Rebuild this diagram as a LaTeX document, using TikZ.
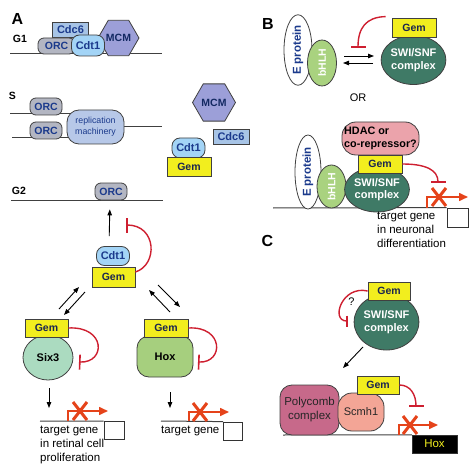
\documentclass[tikz,border=0pt]{standalone}
\usepackage{fontspec}
\setmainfont{Liberation Sans}
\usetikzlibrary{arrows.meta, shapes.geometric, shapes.misc}

\definecolor{protblue}{HTML}{1B3A8C}
\definecolor{gemtext}{HTML}{1A2550}
\definecolor{cdcfill}{HTML}{A7C4E6}
\definecolor{cdtfill}{HTML}{A3D4F6}
\definecolor{orcfill}{HTML}{B3B6C2}
\definecolor{mcmfill}{HTML}{9C9FD8}
\definecolor{repfill}{HTML}{B7C8E8}
\definecolor{gemfill}{HTML}{F2EE1E}
\definecolor{sixfill}{HTML}{ABDBC0}
\definecolor{hoxfill}{HTML}{A6CF7E}
\definecolor{swifill}{HTML}{3F7A66}
\definecolor{bhlhfill}{HTML}{A9D27F}
\definecolor{hdacfill}{HTML}{EBA3AB}
\definecolor{pcfill}{HTML}{C7698A}
\definecolor{scmfill}{HTML}{F3A596}
\definecolor{inhred}{HTML}{CE1F30}
\definecolor{promred}{HTML}{E5431A}

\tikzset{
  every node/.style={font=\fontsize{11}{13}\selectfont},
  panel/.style={font=\bfseries\fontsize{16}{18}\selectfont},
  phase/.style={font=\bfseries\fontsize{10.5}{12}\selectfont},
  prot/.style={draw=black!75, line width=0.8pt, inner sep=0pt, font=\bfseries\fontsize{10.5}{12}\selectfont},
  orc/.style={prot, rounded corners=6pt, fill=orcfill, text=protblue, minimum width=32pt, minimum height=17pt},
  cdt/.style={prot, rounded corners=8pt, fill=cdtfill, text=protblue, minimum width=33pt, minimum height=20pt, font=\bfseries\fontsize{11}{12}\selectfont},
  cdc/.style={prot, rectangle, fill=cdcfill, text=protblue, minimum width=36pt, minimum height=15pt, font=\bfseries\fontsize{11}{12}\selectfont},
  mcm/.style={prot, regular polygon, regular polygon sides=6, fill=mcmfill, text=protblue!70!black, minimum size=40pt},
  gem/.style={prot, rectangle, fill=gemfill, text=gemtext, minimum width=43pt, minimum height=18pt},
  swi/.style={prot, ellipse, fill=swifill, text=white, align=center, font=\bfseries\fontsize{11}{12.5}\selectfont},
  eprot/.style={prot, ellipse, fill=white, text=protblue, rotate=90, font=\bfseries\fontsize{11.5}{12}\selectfont},
  bhlh/.style={prot, ellipse, fill=bhlhfill, text=white, rotate=90, font=\bfseries\fontsize{10.5}{12}\selectfont},
  genebox/.style={draw=black!80, line width=0.8pt, minimum width=20pt, minimum height=18pt, inner sep=0pt},
  genetext/.style={anchor=north west, align=left, inner sep=0pt, font=\fontsize{11.5}{14}\selectfont},
  xmark/.style={cross out, draw=promred, line width=3pt, minimum width=11pt, minimum height=15pt, inner sep=0pt},
  dna/.style={draw=black!75, line width=1pt},
  arr/.style={-{Triangle[length=6pt, width=4.5pt]}, line width=0.9pt},
  inh/.style={draw=inhred, line width=1.4pt, -{Bar[width=15pt, line width=1.6pt]}},
  prom/.style={draw=promred, line width=1.6pt, -{Triangle[length=9pt, width=8pt]}}
}

\begin{document}
\begin{tikzpicture}[x=1pt, y=-1pt]
  \useasboundingbox (0,0) rectangle (474,468);

  %panel A: G1
  \node[panel] (labA) at (17.5,19) {A};
  \node[phase] (g1) at (20,39) {G1};
  \draw[dna] (10,54) -- (162,54);
  \node[mcm] (mcmA) at (118.5,38) {MCM};
  \node[cdc] (cdcA) at (70.5,30) {Cdc6};
  \node[orc, minimum width=37pt, minimum height=16pt] (orcA) at (56.5,46) {ORC};
  \node[cdt, minimum height=21pt] (cdtA) at (88,45.5) {Cdt1};

  %panel A: S
  \node[phase] (s) at (12.5,96) {S};
  \draw[dna] (10,114) -- (85,114);
  \draw[dna] (12,138) -- (85,138);
  \draw[dna] (105,127) -- (162,127);
  \node[orc] (orcS1) at (46,106.5) {ORC};
  \node[orc] (orcS2) at (46,130.5) {ORC};
  \node[prot, rounded corners=12pt, fill=repfill, text=protblue, align=center, minimum width=57pt, minimum height=34pt,
        font=\fontsize{8.8}{11}\selectfont] (rep) at (95.5,127) {replication\\machinery};
  \node[mcm, minimum size=43pt] (mcmS) at (214,102.5) {MCM};
  \node[cdc] (cdcS) at (231,137) {Cdc6};
  \node[cdt] (cdtS) at (188.5,148) {Cdt1};
  \node[gem, minimum width=44pt, minimum height=19pt] (gemS) at (189,166.5) {Gem};

  %panel A: G2
  \node[phase] (g2) at (19,191) {G2};
  \draw[dna] (11,200) -- (163,200);
  \node[orc] (orcG) at (111,191.5) {ORC};
  \node[cdt, minimum height=19pt] (cdtC) at (113,256) {Cdt1};
  \node[gem, minimum height=20pt] (gemC) at (113.5,277) {Gem};
  \draw[arr, shorten <=10pt, shorten >=9pt] ([xshift=-4pt]cdtC.north) -- ([xshift=-1pt]orcG.south);
  \draw[inh] ([yshift=5pt]gemC.east) .. controls (158,265) and (157,225) .. (126,225);

  %double arrows
  \coordinate (la1) at (59,309);
  \coordinate (la2) at (79,287);
  \coordinate (lb1) at (85,292);
  \coordinate (lb2) at (64,315);
  \coordinate (ra1) at (170,312);
  \coordinate (ra2) at (149,290);
  \coordinate (rb1) at (158,285);
  \coordinate (rb2) at (180,307);
  \draw[arr] (la1) -- (la2);
  \draw[arr] (lb1) -- (lb2);
  \draw[arr] (ra1) -- (ra2);
  \draw[arr] (rb1) -- (rb2);

  %Six3
  \node[prot, ellipse, fill=sixfill, text=black, minimum width=50pt, minimum height=45pt,
        font=\bfseries\fontsize{11}{12}\selectfont] (six) at (48,357.5) {Six3};
  \node[gem] (gemL) at (46.5,328) {Gem};
  \draw[inh] (gemL.east) .. controls (106,326) and (106,363) .. (79,362);
  \coordinate (sixd1) at (49,388);
  \coordinate (sixd2) at (49,408);
  \draw[arr] (sixd1) -- (sixd2);
  \node[genebox] (geneL) at (114,430.5) {};
  \draw[dna] (40,421) -- (geneL.north west);
  \coordinate (promL) at (68,421);
  \draw[prom] (promL) -- (68,411) -- (108,411);
  \node[xmark] (xL) at (80,411) {};
  \node[genetext] (txtL) at (40,426) {target gene\\in retinal cell\\proliferation};

  %Hox
  \node[prot, rounded corners=12pt, fill=hoxfill, text=black, minimum width=56pt, minimum height=41pt,
        font=\bfseries\fontsize{11}{12}\selectfont] (hox) at (165,356.5) {Hox};
  \node[gem, minimum width=44pt] (gemR) at (166,328) {Gem};
  \draw[inh] (gemR.east) .. controls (224,326) and (224,363) .. (198,362);
  \coordinate (hoxd1) at (170,392);
  \coordinate (hoxd2) at (170,408);
  \draw[arr] (hoxd1) -- (hoxd2);
  \node[genebox, minimum width=19pt] (geneR) at (233,431) {};
  \draw[dna] (161,421) -- (geneR.north west);
  \coordinate (promR) at (189,421);
  \draw[prom] (promR) -- (189,412) -- (229,412);
  \node[xmark] (xR) at (200,412) {};
  \node[genetext] (txtR) at (161,426) {target gene};

  %panel B
  \node[panel] (labB) at (268,24) {B};
  \node[eprot, minimum width=70pt, minimum height=28pt] (epB) at (298,50) {E protein};
  \node[bhlh, minimum width=46pt, minimum height=29pt] (bhB) at (322,63) {bHLH};
  \coordinate (eq1) at (344,56);
  \coordinate (eq2) at (374,56);
  \coordinate (eq3) at (373,63);
  \coordinate (eq4) at (343,63);
  \draw[arr] (eq1) -- (eq2);
  \draw[arr] (eq3) -- (eq4);
  \node[swi, minimum width=63pt, minimum height=49pt] (swiB) at (413.5,60) {SWI/SNF\\complex};
  \node[gem, minimum width=44pt, minimum height=19pt] (gemB) at (414,27.5) {Gem};
  \draw[inh] ([xshift=-6pt, yshift=1pt]gemB.north west) .. controls (366,17) and (358,28) .. (358,48);
  \node (or) at (358,98) {OR};

  %panel B: on the gene
  \node[genebox, minimum width=21pt, minimum height=19pt] (geneB) at (457.5,217.5) {};
  \draw[dna] (273,208) -- (geneB.north west);
  \node[prot, rounded corners=14pt, fill=hdacfill, text=black, align=left, minimum width=77pt, minimum height=33pt,
        font=\bfseries\fontsize{10.8}{12.5}\selectfont] (hdac) at (380.5,138.5) {HDAC or\\co-repressor?};
  \node[eprot, minimum width=74pt, minimum height=26pt] (epB2) at (308,172) {E protein};
  \node[bhlh, minimum width=43pt, minimum height=29pt] (bhB2) at (331.5,186.5) {bHLH};
  \node[swi, minimum width=64pt, minimum height=45pt] (swiB2) at (377,189.5) {SWI/SNF\\complex};
  \node[gem, minimum width=44pt] (gemB2) at (380,164) {Gem};
  \draw[inh] (gemB2.east) .. controls (426,164) and (438,170) .. (438,183);
  \coordinate (promB) at (427,208);
  \draw[prom] (promB) -- (427,197) -- (468,197);
  \node[xmark] (xB) at (439,197) {};
  \node[genetext] (txtB) at (377,212) {target gene\\in neuronal\\differentiation};

  %panel C
  \node[panel] (labC) at (267.5,241) {C};
  \node[swi, minimum width=63pt, minimum height=56pt] (swiC) at (386.5,322) {SWI/SNF\\complex};
  \node[gem, minimum width=42pt] (gemC1) at (389,291) {Gem};
  \draw[inh, -{Bar[width=11pt, line width=1.6pt]}] (gemC1.west) .. controls (342,285) and (330,321) .. (348,321);
  \node[font=\fontsize{11}{12}\selectfont] (qm) at (351.5,302) {?};
  \coordinate (cd1) at (363,347);
  \coordinate (cd2) at (343,368);
  \draw[arr] (cd1) -- (cd2);
  \node[draw=black!80, fill=black, text=gemfill, minimum width=45pt, minimum height=18pt, inner sep=0pt,
        font=\fontsize{11.5}{12}\selectfont] (hoxC) at (434.5,444) {Hox};
  \draw[dna] (283,435) -- (hoxC.north west);
  \node[prot, rounded corners=12pt, fill=pcfill, text=black!85, align=center, minimum width=59pt, minimum height=50pt,
        font=\fontsize{11.5}{14}\selectfont] (pc) at (309.5,410) {Polycomb\\complex};
  \node[prot, rounded corners=14pt, fill=scmfill, text=black!85, minimum width=46pt, minimum height=38pt,
        font=\fontsize{11}{12}\selectfont] (scm) at (361,412) {Scmh1};
  \node[gem, minimum width=42pt] (gemC2) at (378,385) {Gem};
  \draw[inh] (gemC2.east) .. controls (410,385) and (416,394) .. (416,407);
  \coordinate (promC) at (399,435);
  \draw[prom] (promC) -- (399,425) -- (438,425);
  \node[xmark] (xC) at (410,425) {};
\end{tikzpicture}
\end{document}
